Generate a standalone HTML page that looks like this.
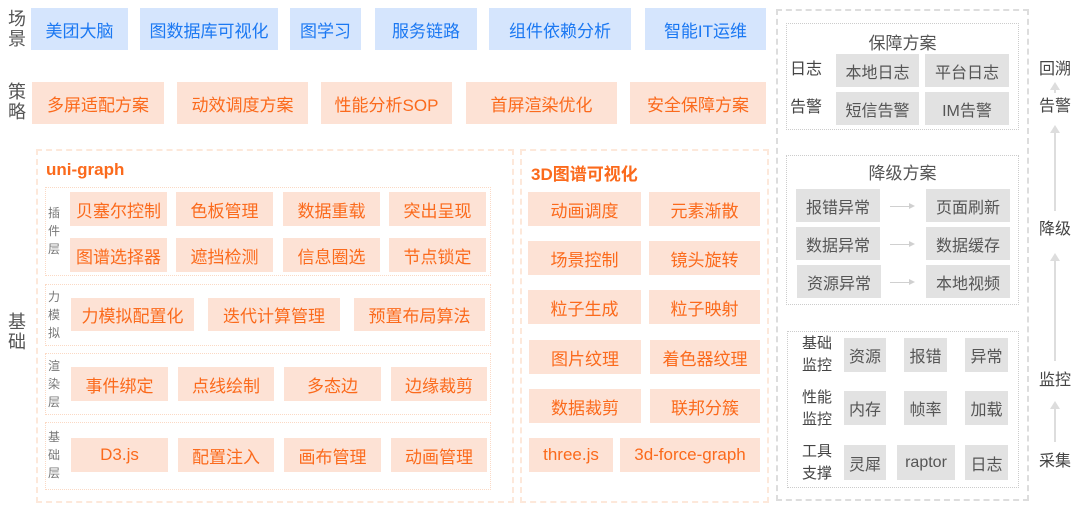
<!DOCTYPE html>
<html><head><meta charset="utf-8"><style>
*{margin:0;padding:0;box-sizing:border-box}
body{width:1080px;height:509px;background:#fff;position:relative;overflow:hidden;font-family:"Liberation Sans","Noto Sans CJK SC",sans-serif}
div{position:absolute}
.b{display:flex;align-items:center;justify-content:center;font-size:17px;white-space:nowrap}
.bl{background:#d5e5fd;color:#1b78f2}
.o{background:#fde2d5;color:#fb6a1c}
.g{background:#e2e2e2;color:#555;font-size:16px}
.lab{font-size:18px;color:#555;line-height:20px;width:20px;text-align:center}
.sl{font-size:12px;color:#777;line-height:18px;width:14px;text-align:center}
.dash{border:2px dashed #fde8da}
.dot{border:1px dotted #fbd9c4}
.gd{border:2px dashed #ddd}
.gdot{border:1px dotted #ccc}
.t{font-size:17px;font-weight:bold;color:#fb6a1c}
.gt{font-size:17px;color:#555;text-align:center}
.gl{font-size:16px;color:#444;line-height:24px}
.arr{height:1px;background:#d0d0d0}
.ah{width:0;height:0;border-top:3px solid transparent;border-bottom:3px solid transparent;border-left:6px solid #d0d0d0}
.va{width:2px;background:#ddd}
.vh{width:0;height:0;border-left:5px solid transparent;border-right:5px solid transparent;border-bottom:8px solid #ddd}
</style></head><body>
<div class="lab" style="left:7px;top:9px">场景</div>
<div class="lab" style="left:7px;top:82px">策略</div>
<div class="lab" style="left:7px;top:312px">基础</div>

<div class="b bl" style="left:31px;top:8px;width:97px;height:42px">美团大脑</div>
<div class="b bl" style="left:140px;top:8px;width:138px;height:42px">图数据库可视化</div>
<div class="b bl" style="left:290px;top:8px;width:71px;height:42px">图学习</div>
<div class="b bl" style="left:375px;top:8px;width:102px;height:42px">服务链路</div>
<div class="b bl" style="left:489px;top:8px;width:142px;height:42px">组件依赖分析</div>
<div class="b bl" style="left:645px;top:8px;width:121px;height:42px">智能IT运维</div>

<div class="b o" style="left:32px;top:82px;width:132px;height:42px">多屏适配方案</div>
<div class="b o" style="left:177px;top:82px;width:131px;height:42px">动效调度方案</div>
<div class="b o" style="left:321px;top:82px;width:131px;height:42px">性能分析SOP</div>
<div class="b o" style="left:466px;top:82px;width:151px;height:42px">首屏渲染优化</div>
<div class="b o" style="left:630px;top:82px;width:136px;height:42px">安全保障方案</div>

<div class="dash" style="left:36px;top:149px;width:478px;height:354px"></div>
<div class="t" style="left:46px;top:160px">uni-graph</div>
<div class="dot" style="left:45px;top:187px;width:446px;height:89px"></div>
<div class="dot" style="left:45px;top:284px;width:446px;height:62px"></div>
<div class="dot" style="left:45px;top:353px;width:446px;height:62px"></div>
<div class="dot" style="left:45px;top:422px;width:446px;height:68px"></div>
<div class="sl" style="left:47px;top:204px">插件层</div>
<div class="sl" style="left:47px;top:288px">力模拟</div>
<div class="sl" style="left:47px;top:357px">渲染层</div>
<div class="sl" style="left:47px;top:428px">基础层</div>

<div class="b o" style="left:70px;top:192px;width:97px;height:34px">贝塞尔控制</div>
<div class="b o" style="left:176px;top:192px;width:97px;height:34px">色板管理</div>
<div class="b o" style="left:283px;top:192px;width:97px;height:34px">数据重载</div>
<div class="b o" style="left:389px;top:192px;width:97px;height:34px">突出呈现</div>
<div class="b o" style="left:70px;top:238px;width:97px;height:34px">图谱选择器</div>
<div class="b o" style="left:176px;top:238px;width:97px;height:34px">遮挡检测</div>
<div class="b o" style="left:283px;top:238px;width:97px;height:34px">信息圈选</div>
<div class="b o" style="left:389px;top:238px;width:97px;height:34px">节点锁定</div>

<div class="b o" style="left:71px;top:298px;width:123px;height:33px">力模拟配置化</div>
<div class="b o" style="left:208px;top:298px;width:132px;height:33px">迭代计算管理</div>
<div class="b o" style="left:354px;top:298px;width:131px;height:33px">预置布局算法</div>

<div class="b o" style="left:71px;top:367px;width:97px;height:34px">事件绑定</div>
<div class="b o" style="left:178px;top:367px;width:96px;height:34px">点线绘制</div>
<div class="b o" style="left:284px;top:367px;width:97px;height:34px">多态边</div>
<div class="b o" style="left:391px;top:367px;width:96px;height:34px">边缘裁剪</div>

<div class="b o" style="left:71px;top:438px;width:97px;height:34px">D3.js</div>
<div class="b o" style="left:178px;top:438px;width:96px;height:34px">配置注入</div>
<div class="b o" style="left:284px;top:438px;width:97px;height:34px">画布管理</div>
<div class="b o" style="left:391px;top:438px;width:96px;height:34px">动画管理</div>

<div class="dash" style="left:520px;top:149px;width:249px;height:354px"></div>
<div class="t" style="left:531px;top:160px">3D图谱可视化</div>
<div class="b o" style="left:528px;top:192px;width:113px;height:34px">动画调度</div>
<div class="b o" style="left:649px;top:192px;width:111px;height:34px">元素渐散</div>
<div class="b o" style="left:528px;top:241px;width:113px;height:34px">场景控制</div>
<div class="b o" style="left:649px;top:241px;width:111px;height:34px">镜头旋转</div>
<div class="b o" style="left:528px;top:290px;width:113px;height:34px">粒子生成</div>
<div class="b o" style="left:649px;top:290px;width:111px;height:34px">粒子映射</div>
<div class="b o" style="left:529px;top:340px;width:112px;height:34px">图片纹理</div>
<div class="b o" style="left:650px;top:340px;width:110px;height:34px">着色器纹理</div>
<div class="b o" style="left:529px;top:389px;width:112px;height:34px">数据裁剪</div>
<div class="b o" style="left:650px;top:389px;width:110px;height:34px">联邦分簇</div>
<div class="b o" style="left:529px;top:438px;width:84px;height:34px">three.js</div>
<div class="b o" style="left:620px;top:438px;width:140px;height:34px">3d-force-graph</div>

<div class="gd" style="left:776px;top:9px;width:253px;height:492px"></div>
<div class="gdot" style="left:786px;top:23px;width:233px;height:107px"></div>
<div class="gt" style="left:786px;top:29px;width:233px">保障方案</div>
<div class="gl" style="left:790px;top:58px">日志</div>
<div class="gl" style="left:790px;top:96px">告警</div>
<div class="b g" style="left:836px;top:54px;width:83px;height:33px">本地日志</div>
<div class="b g" style="left:925px;top:54px;width:84px;height:33px">平台日志</div>
<div class="b g" style="left:836px;top:92px;width:83px;height:33px">短信告警</div>
<div class="b g" style="left:925px;top:92px;width:84px;height:33px">IM告警</div>

<div class="gdot" style="left:786px;top:155px;width:233px;height:150px"></div>
<div class="gt" style="left:786px;top:159px;width:233px">降级方案</div>
<div class="b g" style="left:796px;top:189px;width:84px;height:33px">报错异常</div>
<div class="b g" style="left:926px;top:189px;width:84px;height:33px">页面刷新</div>
<div class="b g" style="left:796px;top:227px;width:84px;height:33px">数据异常</div>
<div class="b g" style="left:926px;top:227px;width:84px;height:33px">数据缓存</div>
<div class="b g" style="left:797px;top:265px;width:84px;height:33px">资源异常</div>
<div class="b g" style="left:926px;top:265px;width:84px;height:33px">本地视频</div>
<div class="arr" style="left:890px;top:206px;width:20px"></div><div class="ah" style="left:909px;top:203px"></div>
<div class="arr" style="left:890px;top:244px;width:20px"></div><div class="ah" style="left:909px;top:241px"></div>
<div class="arr" style="left:890px;top:282px;width:20px"></div><div class="ah" style="left:909px;top:279px"></div>

<div class="gdot" style="left:787px;top:331px;width:232px;height:157px"></div>
<div class="gl" style="left:802px;top:333px;width:32px;line-height:22px;font-size:15px">基础监控</div>
<div class="gl" style="left:802px;top:387px;width:32px;line-height:22px;font-size:15px">性能监控</div>
<div class="gl" style="left:802px;top:441px;width:32px;line-height:22px;font-size:15px">工具支撑</div>
<div class="b g" style="left:844px;top:338px;width:42px;height:34px">资源</div>
<div class="b g" style="left:904px;top:338px;width:43px;height:34px">报错</div>
<div class="b g" style="left:965px;top:338px;width:43px;height:34px">异常</div>
<div class="b g" style="left:844px;top:391px;width:42px;height:34px">内存</div>
<div class="b g" style="left:904px;top:391px;width:43px;height:34px">帧率</div>
<div class="b g" style="left:965px;top:391px;width:43px;height:34px">加载</div>
<div class="b g" style="left:844px;top:445px;width:42px;height:35px">灵犀</div>
<div class="b g" style="left:897px;top:445px;width:58px;height:35px">raptor</div>
<div class="b g" style="left:965px;top:445px;width:43px;height:35px">日志</div>

<div class="gl" style="left:1039px;top:58px">回溯</div>
<div class="gl" style="left:1039px;top:95px">告警</div>
<div class="gl" style="left:1039px;top:218px">降级</div>
<div class="gl" style="left:1039px;top:369px">监控</div>
<div class="gl" style="left:1039px;top:450px">采集</div>
<div class="vh" style="left:1050px;top:82px"></div><div class="va" style="left:1054px;top:88px;height:5px"></div>
<div class="vh" style="left:1050px;top:125px"></div><div class="va" style="left:1054px;top:131px;height:80px"></div>
<div class="vh" style="left:1050px;top:253px"></div><div class="va" style="left:1054px;top:259px;height:102px"></div>
<div class="vh" style="left:1050px;top:401px"></div><div class="va" style="left:1054px;top:407px;height:35px"></div>
</body></html>
